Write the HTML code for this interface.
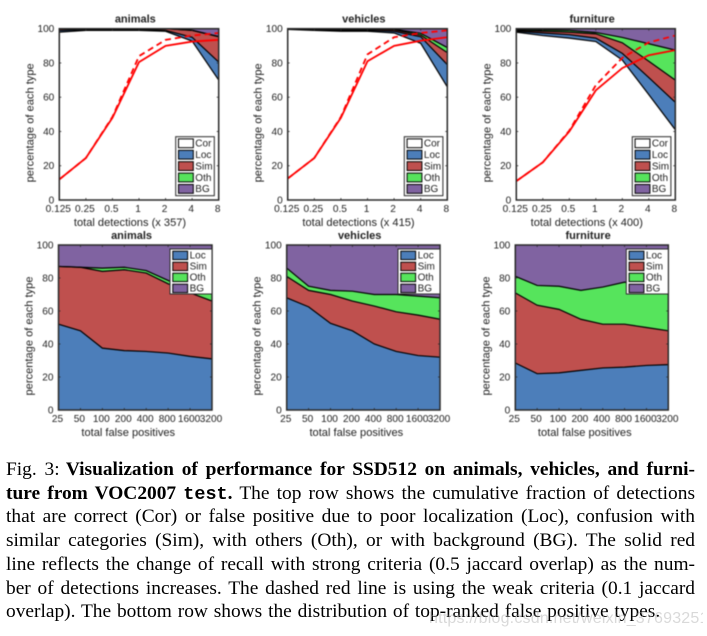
<!DOCTYPE html>
<html lang="en">
<head>
<meta charset="utf-8">
<title>SSD512 performance visualization</title>
<style>
html,body{margin:0;padding:0;background:#fff;}
body{width:707px;height:636px;position:relative;overflow:hidden;}
#figure{position:absolute;left:0;top:0;filter:blur(0.4px);}
#figure text{font-family:"Liberation Sans",sans-serif;fill:#222;}
.cap{position:absolute;left:6px;width:689px;height:24px;line-height:24px;font-family:"Liberation Serif",serif;font-size:19.4px;color:#000;text-align:justify;text-align-last:justify;white-space:nowrap;}
.cap.last{text-align-last:left;word-spacing:1px;}
.cap b{font-weight:bold;}
.cap code{font-family:"Liberation Mono",monospace;font-weight:bold;font-size:18.5px;}
.fig-label{margin-right:-1.5px;}
#watermark{position:absolute;left:429px;top:610px;width:274px;overflow:hidden;font-family:"Liberation Sans",sans-serif;font-size:16px;letter-spacing:.2px;color:rgba(170,170,170,.45);white-space:nowrap;}
</style>
</head>
<body>
<svg id="figure" width="707" height="440" viewBox="0 0 707 440" xmlns="http://www.w3.org/2000/svg"></svg>

<div>
<div class="cap" style="top:458px"><span class="fig-label">Fig. 3:</span> <b>Visualization of performance for SSD512 on animals, vehicles, and furni-</b></div>
<div class="cap" style="top:482px"><b>ture from VOC2007 <code>test</code>.</b> The top row shows the cumulative fraction of detections</div>
<div class="cap" style="top:505px">that are correct (Cor) or false positive due to poor localization (Loc), confusion with</div>
<div class="cap" style="top:529px">similar categories (Sim), with others (Oth), or with background (BG). The solid red</div>
<div class="cap" style="top:553px">line reflects the change of recall with strong criteria (0.5 jaccard overlap) as the num-</div>
<div class="cap" style="top:577px">ber of detections increases. The dashed red line is using the weak criteria (0.1 jaccard</div>
<div class="cap last" style="top:600px">overlap). The bottom row shows the distribution of top-ranked false positive types.</div>
</div>
<div id="watermark">https://blog.csdn.net/weixin_37693251</div>

<script>
// Shared categories and tick labels
var topCategories = [0.125, 0.25, 0.5, 1, 2, 4, 8];
var topTickLabels = ['0.125', '0.25', '0.5', '1', '2', '4', '8'];
var bottomCategories = [25, 50, 100, 200, 400, 800, 1600, 3200];
var bottomTickLabels = ['25', '50', '100', '200', '400', '800', '1600', '3200'];
var yTickLabels = [0, 20, 40, 60, 80, 100];
var topLegendLabels = ['Cor', 'Loc', 'Sim', 'Oth', 'BG'];
var bottomLegendLabels = ['Loc', 'Sim', 'Oth', 'BG'];
var titles = ['animals', 'vehicles', 'furniture'];
var topXTitles = ['total detections (x 357)', 'total detections (x 415)', 'total detections (x 400)'];

// Top row: cumulative upper boundaries of each type (percent)
var animalsCor = [98, 99, 99, 99, 98.5, 92.8, 70];
var animalsLoc = [99, 99.5, 99.5, 99.5, 99, 95, 80.5];
var animalsSim = [100, 100, 100, 100, 100, 99, 95.3];
var animalsOth = [100, 100, 100, 100, 100, 99.1, 95.5];
var animalsRecall = [12, 24.5, 48, 80.5, 90, 92.5, 93.5];
var animalsWeak = [12, 24.5, 48.5, 84, 93.5, 96, 97.5];

var vehiclesCor = [99.6, 99, 98.5, 98.5, 97.5, 91.5, 66];
var vehiclesLoc = [99.8, 99.5, 99, 99, 98.5, 95.3, 79];
var vehiclesSim = [100, 99.8, 99.5, 99.5, 99.4, 96.3, 86];
var vehiclesOth = [100, 100, 99.8, 99.7, 99.7, 97.3, 89];
var vehiclesRecall = [12.5, 24.5, 48, 81, 90, 93, 95];
var vehiclesWeak = [12.5, 24.5, 48.5, 85, 95, 97.5, 99];

var furnitureCor = [98, 96, 94.5, 92.5, 81.7, 61.5, 41];
var furnitureLoc = [98.5, 97.5, 96.5, 94.5, 85.6, 71.5, 57];
var furnitureSim = [99, 98.5, 98, 97, 91.8, 81, 70];
var furnitureOth = [99.5, 99.3, 99, 97.8, 94.9, 91.2, 87.5];
var furnitureRecall = [11, 22, 40, 64, 77, 84.5, 87.5];
var furnitureWeak = [11, 22, 40.5, 67, 83, 92, 96];

// Bottom row: cumulative upper boundaries of each type (percent)
var animalsFpLoc = [52, 48, 37.5, 36, 35.5, 34.5, 32.5, 31];
var animalsFpSim = [87, 86.5, 84, 85, 83, 76.5, 71, 66];
var animalsFpOth = [87, 86.5, 86, 86.5, 84.5, 78.5, 72, 71];

var vehiclesFpLoc = [68, 62.5, 52.5, 48, 40, 35.5, 33, 32];
var vehiclesFpSim = [81, 72.5, 70, 66, 63, 59.5, 57.5, 55];
var vehiclesFpOth = [86, 75, 72.5, 72, 70, 70, 69, 68];

var furnitureFpLoc = [28.5, 22, 22.5, 24, 25.5, 26, 27, 27.5];
var furnitureFpSim = [71, 63.5, 61, 55, 52, 52, 50, 48];
var furnitureFpOth = [81, 75.5, 75, 72.5, 74.5, 77.5, 75.5, 76];

var colorOf = {Cor: '#ffffff', Loc: '#4c7eba', Sim: '#bf504e', Oth: '#56e45c', BG: '#8063a1'};
var NS = 'http://www.w3.org/2000/svg';
var svg = document.getElementById('figure');

function make(tag, attrs, parent) {
  var node = document.createElementNS(NS, tag);
  for (var key in attrs) node.setAttribute(key, attrs[key]);
  parent.appendChild(node);
  return node;
}

function drawPanel(cfg) {
  var g = make('g', {}, svg);
  
  

  var logMin = Math.log2(cfg.categories[0]);
  var logMax = Math.log2(cfg.categories[cfg.categories.length - 1]);
  function xScale(v) { return cfg.left + (Math.log2(v) - logMin) / (logMax - logMin) * (cfg.right - cfg.left); }
  function yScale(v) { return cfg.bottom - v / 100 * (cfg.bottom - cfg.top); }

  function boundaryPoints(values) {
    return values.map(function (v, i) { return xScale(cfg.categories[i]).toFixed(2) + ',' + yScale(v).toFixed(2); });
  }

  // Stacked areas, bottom to top
  var hundred = cfg.categories.map(function () { return 100; });
  var zero = cfg.categories.map(function () { return 0; });
  var uppers = cfg.bands.map(function (b) { return b.values; }).concat([hundred]);
  for (var s = 0; s < cfg.labels.length; s++) {
    var label = cfg.labels[s];
    var lower = s === 0 ? zero : uppers[s - 1];
    var pts = boundaryPoints(uppers[s]).concat(boundaryPoints(lower).reverse());
    var area = make('polygon', {points: pts.join(' '), fill: colorOf[label], stroke: 'none'}, g);
    
    
  }
  // Black boundaries
  cfg.bands.forEach(function (b) {
    var edge = make('polyline', {points: boundaryPoints(b.values).join(' '), fill: 'none', stroke: '#000', 'stroke-width': 1.2}, g);
    
    
  });

  // Recall lines
  if (cfg.recall) {
    var solid = make('polyline', {points: boundaryPoints(cfg.recall).join(' '), fill: 'none', stroke: '#ff0000', 'stroke-width': 1.8}, g);
    
    
    var dashed = make('polyline', {points: boundaryPoints(cfg.weak).join(' '), fill: 'none', stroke: '#ff0000', 'stroke-width': 1.8, 'stroke-dasharray': '6 4'}, g);
    
    
  }

  // Axes box
  var box = make('rect', {x: cfg.left, y: cfg.top, width: cfg.right - cfg.left, height: cfg.bottom - cfg.top, fill: 'none', stroke: '#2a2a2a', 'stroke-width': 1.5}, g);
  
  

  // X ticks
  cfg.categories.forEach(function (c, i) {
    var x = xScale(c);
    make('line', {x1: x, x2: x, y1: cfg.bottom, y2: cfg.bottom - 2, stroke: '#2a2a2a', 'stroke-width': 0.8}, g);
    make('line', {x1: x, x2: x, y1: cfg.top, y2: cfg.top + 2, stroke: '#2a2a2a', 'stroke-width': 0.8}, g);
    var t = make('text', {x: x - 1, y: cfg.bottom + cfg.tickGap, 'text-anchor': 'middle', 'font-size': 10.1}, g);
    
    
    t.textContent = cfg.tickLabels[i];
  });

  // Y ticks
  yTickLabels.forEach(function (v) {
    var y = yScale(v);
    make('line', {x1: cfg.left, x2: cfg.left + 2, y1: y, y2: y, stroke: '#2a2a2a', 'stroke-width': 0.8}, g);
    make('line', {x1: cfg.right, x2: cfg.right - 2, y1: y, y2: y, stroke: '#2a2a2a', 'stroke-width': 0.8}, g);
    var t = make('text', {x: cfg.left - 5, y: y + 3.5, 'text-anchor': 'end', 'font-size': 10.1}, g);
    
    
    t.textContent = v;
  });

  // Titles
  var title = make('text', {x: (cfg.left + cfg.right) / 2 - 3.7, y: cfg.top - 6, 'text-anchor': 'middle', 'font-size': 11, 'font-weight': 'bold'}, g);
  
  
  title.textContent = cfg.title;

  var xTitle = make('text', {x: (cfg.left + cfg.right) / 2 - (cfg.recall ? 9 : 7), y: cfg.bottom + cfg.xTitleGap, 'text-anchor': 'middle', 'font-size': 11.1}, g);
  
  
  xTitle.textContent = cfg.xTitle;

  var yx = cfg.left - 26;
  var yy = (cfg.top + cfg.bottom) / 2 + 8.5;
  var yTitle = make('text', {x: yx, y: yy, 'text-anchor': 'middle', 'font-size': 11.1, transform: 'rotate(-90 ' + yx + ' ' + yy + ')'}, g);
  
  
  yTitle.textContent = 'percentage of each type';

  // Legend
  var legend = make('g', {}, g);
  
  
  var lw = cfg.recall ? 38.6 : 42;
  var pitch = cfg.recall ? 11.4 : 11;
  var lh = cfg.labels.length * pitch + (cfg.recall ? 2 : 1);
  var lx = cfg.recall ? cfg.right - 4.4 - lw : cfg.right - lw;
  var ly = cfg.recall ? cfg.bottom - 4.3 - lh : cfg.top + 4;
  make('rect', {x: lx, y: ly, width: lw, height: lh, fill: '#fff', stroke: '#2a2a2a', 'stroke-width': 1}, legend);
  cfg.labels.forEach(function (name, i) {
    var sy = ly + 2.2 + i * pitch;
    var entry = make('g', {}, legend);
    
    
    make('rect', {x: lx + 2.8, y: sy, width: 14.8, height: pitch - 2.6, fill: colorOf[name], stroke: '#000', 'stroke-width': 1}, entry);
    var t = make('text', {x: lx + 19.6, y: sy + pitch / 2 + 2, 'font-size': 10}, entry);
    t.textContent = name;
  });
}

function topPanel(name, idx, left, right, cor, loc, sim, oth, recall, weak) {
  drawPanel({
    name: name, left: left, right: right, top: 28.7, bottom: 200,
    categories: topCategories, tickLabels: topTickLabels, labels: topLegendLabels,
    bands: [{key: 'cor', values: cor}, {key: 'loc', values: loc}, {key: 'sim', values: sim}, {key: 'oth', values: oth}],
    recall: recall, weak: weak, title: titles[idx], xTitle: topXTitles[idx], tickGap: 12, xTitleGap: 26
  });
}

function bottomPanel(name, idx, left, right, loc, sim, oth) {
  drawPanel({
    name: name, left: left, right: right, top: 245, bottom: 410,
    categories: bottomCategories, tickLabels: bottomTickLabels, labels: bottomLegendLabels,
    bands: [{key: 'loc', values: loc}, {key: 'sim', values: sim}, {key: 'oth', values: oth}],
    recall: null, weak: null, title: titles[idx], xTitle: 'total false positives', tickGap: 12, xTitleGap: 26
  });
}

topPanel('animals-detections-chart', 0, 59.3, 218.7, animalsCor, animalsLoc, animalsSim, animalsOth, animalsRecall, animalsWeak);
topPanel('vehicles-detections-chart', 1, 287.7, 447.3, vehiclesCor, vehiclesLoc, vehiclesSim, vehiclesOth, vehiclesRecall, vehiclesWeak);
topPanel('furniture-detections-chart', 2, 516.3, 675.3, furnitureCor, furnitureLoc, furnitureSim, furnitureOth, furnitureRecall, furnitureWeak);
bottomPanel('animals-false-positives-chart', 0, 58.5, 212, animalsFpLoc, animalsFpSim, animalsFpOth);
bottomPanel('vehicles-false-positives-chart', 1, 286.7, 440, vehiclesFpLoc, vehiclesFpSim, vehiclesFpOth);
bottomPanel('furniture-false-positives-chart', 2, 515.3, 668.3, furnitureFpLoc, furnitureFpSim, furnitureFpOth);
</script>
</body>
</html>
